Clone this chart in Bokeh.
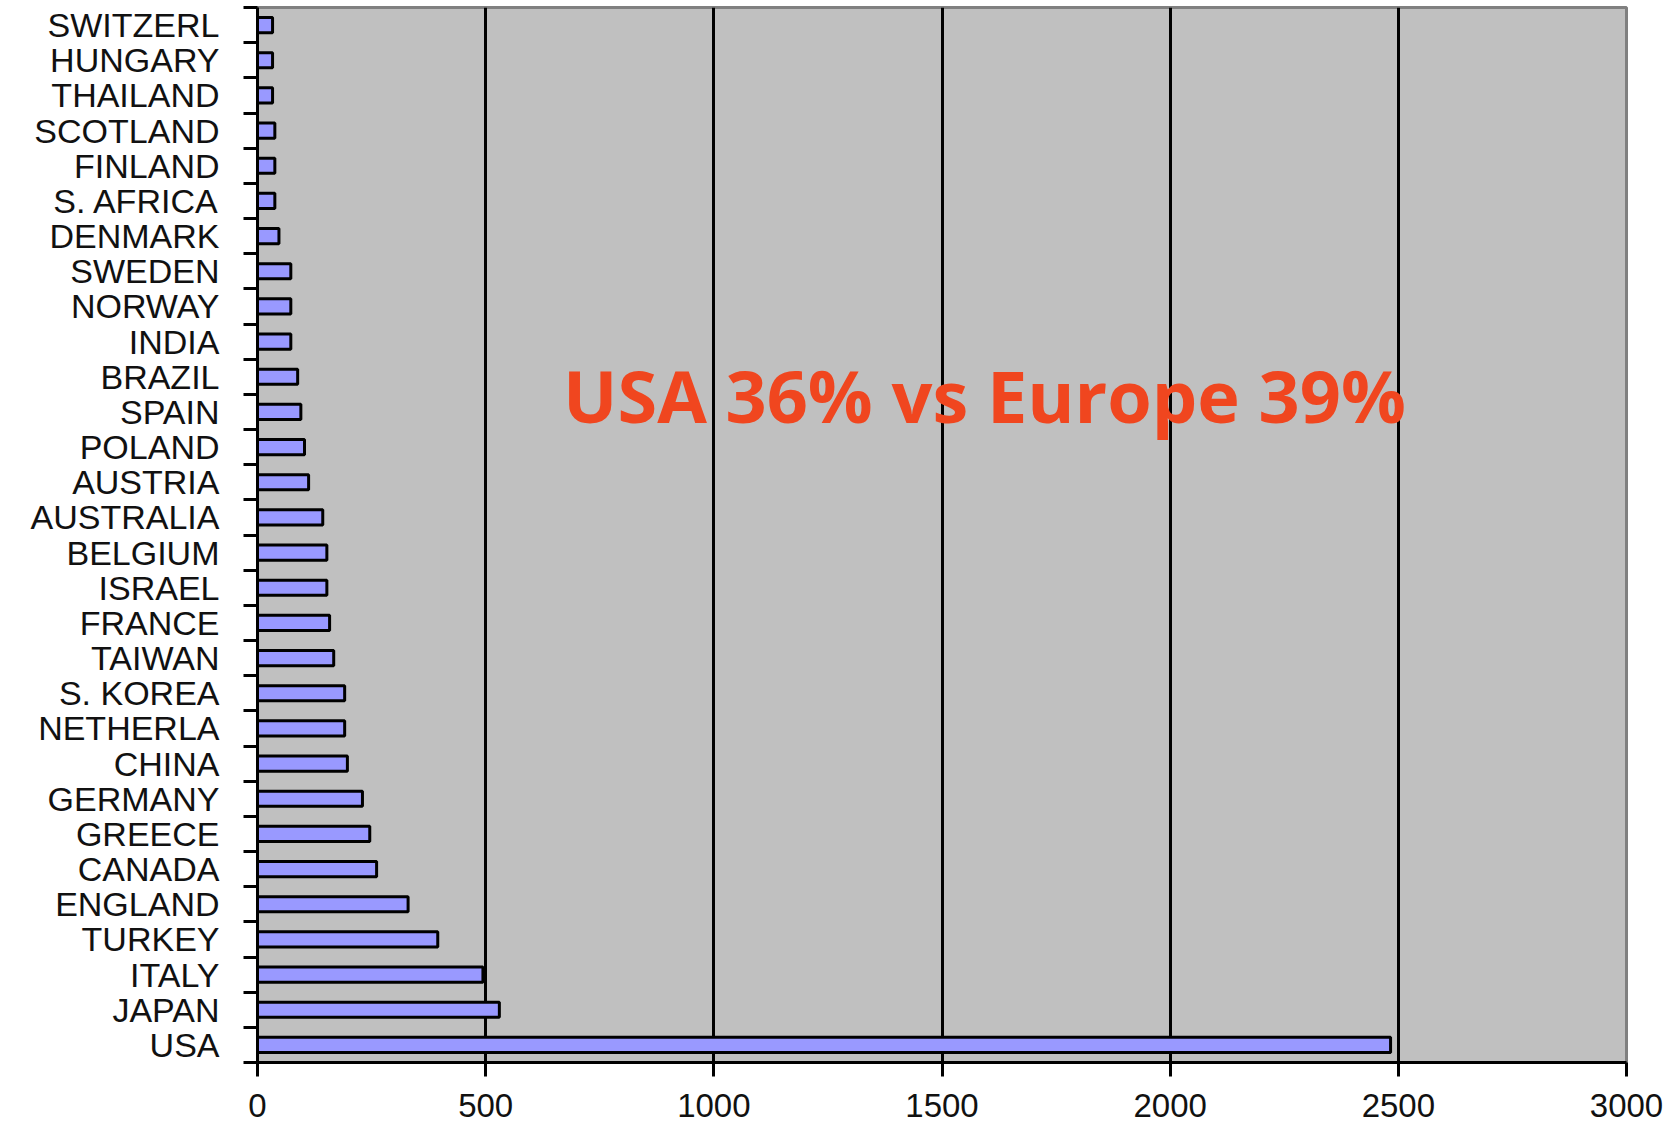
from bokeh.plotting import figure
from bokeh.models import ColumnDataSource, FixedTicker, Range1d, Label
from bokeh.embed import file_html
from bokeh.resources import INLINE

# Countries listed top to bottom as in the chart
countries = ["SWITZERL", "HUNGARY", "THAILAND", "SCOTLAND", "FINLAND", "S. AFRICA",
             "DENMARK", "SWEDEN", "NORWAY", "INDIA", "BRAZIL", "SPAIN", "POLAND",
             "AUSTRIA", "AUSTRALIA", "BELGIUM", "ISRAEL", "FRANCE", "TAIWAN",
             "S. KOREA", "NETHERLA", "CHINA", "GERMANY", "GREECE", "CANADA",
             "ENGLAND", "TURKEY", "ITALY", "JAPAN", "USA"]
values = [33, 33, 33, 38, 38, 38,
          47, 73, 73, 73, 88, 95, 103,
          112, 143, 152, 152, 158, 167,
          191, 191, 197, 230, 246, 261,
          330, 395, 494, 530, 2483]
x_ticks = [0, 500, 1000, 1500, 2000, 2500, 3000]
grid_lines = [500, 1000, 1500, 2000, 2500]
annotation = "USA 36% vs Europe 39%"

n = len(countries)
ypos = [n - 1 - i + 0.5 for i in range(n)]
source = ColumnDataSource(dict(y=ypos, v=values, name=countries))

p = figure(frame_width=1369, frame_height=1055,
           x_range=Range1d(0, 3000), y_range=Range1d(0, n),
           output_backend="svg", toolbar_location=None,
           min_border_left=257, min_border_right=42,
           min_border_top=7, min_border_bottom=69)

p.background_fill_color = "#C0C0C0"
p.border_fill_color = "white"
p.outline_line_color = "#808080"
p.outline_line_width = 3

p.hbar(y="y", right="v", left=0, height=0.43, source=source,
       fill_color="#9999FF", line_color="black", line_width=3)

# x axis
xa = p.xaxis[0]
xa.ticker = FixedTicker(ticks=x_ticks)
xa.axis_line_color = "black"
xa.axis_line_width = 3
xa.major_tick_line_color = "black"
xa.major_tick_line_width = 3
xa.major_tick_out = 14
xa.major_tick_in = 0
xa.minor_tick_line_color = None
xa.major_label_text_font = "Liberation Sans"
xa.major_label_text_font_size = "33px"
xa.major_label_text_color = "#111111"
xa.major_label_standoff = 17

# y axis
ya = p.yaxis[0]
boundaries = [i for i in range(n + 1)]
ya.ticker = FixedTicker(ticks=ypos, minor_ticks=boundaries)
ya.major_label_overrides = {yv: nm for yv, nm in zip(ypos, countries)}
ya.axis_line_color = "black"
ya.axis_line_width = 3
ya.major_tick_line_color = None
ya.major_tick_out = 0
ya.major_tick_in = 0
ya.minor_tick_line_color = "black"
ya.minor_tick_line_width = 3
ya.minor_tick_out = 14
ya.minor_tick_in = 0
ya.major_label_text_font = "Liberation Sans"
ya.major_label_text_font_size = "34px"
ya.major_label_text_color = "#111111"
ya.major_label_standoff = 24

# grids
p.xgrid.ticker = FixedTicker(ticks=grid_lines)
p.xgrid.grid_line_color = "black"
p.xgrid.grid_line_width = 3
p.ygrid.grid_line_color = None

lbl = Label(x=1593, y=18.98, text=annotation,
            text_font="Open Sans", text_font_style="bold",
            text_font_size="72px", text_color="#F0461F",
            text_align="center", text_baseline="alphabetic")
p.add_layout(lbl)

open("out.html", "w").write(file_html(p, INLINE))
